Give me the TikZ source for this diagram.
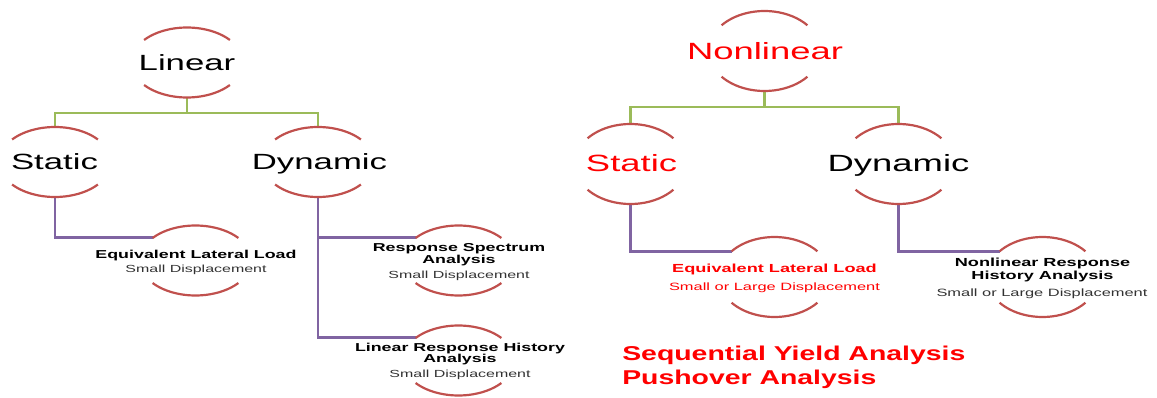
\documentclass[tikz,border=0pt]{standalone}
\usepackage{fontspec}
\setmainfont{Liberation Sans}
\usetikzlibrary{shapes.geometric}
\definecolor{ringred}{RGB}{192,80,77}
\definecolor{lngreen}{RGB}{155,187,89}
\definecolor{lnpurple}{RGB}{128,100,162}
\definecolor{txtgray}{RGB}{50,50,50}
\definecolor{txtred}{RGB}{255,0,0}
\newcommand\ringarcs[3]{%
  \draw[ring] ([shift={(140:#2 and #3)}]#1.center) arc[start angle=140,end angle=40,x radius=#2,y radius=#3];
  \draw[ring] ([shift={(220:#2 and #3)}]#1.center) arc[start angle=220,end angle=320,x radius=#2,y radius=#3];}
\begin{document}
\begin{tikzpicture}[x=1pt,y=1pt,
  ring/.style={draw=ringred, line width=2.2pt},
  frameL/.style={ellipse, minimum width=112pt, minimum height=70pt, inner sep=0pt, outer sep=0pt},
  frameR/.style={frameL, minimum height=80pt},
  bigL/.style={anchor=base, xscale=1.58, inner sep=0pt, font=\fontsize{22}{26}\selectfont},
  bigR/.style={anchor=base, xscale=1.55, inner sep=0pt, font=\fontsize{23.5}{28}\selectfont},
  subbL/.style={anchor=base, xscale=1.55, inner sep=0pt, font=\bfseries\fontsize{11.5}{13}\selectfont},
  subrL/.style={anchor=base, xscale=1.55, inner sep=0pt, text=txtgray, font=\fontsize{10.3}{12}\selectfont},
  subbR/.style={anchor=base, xscale=1.55, inner sep=0pt, font=\bfseries\fontsize{11.7}{13}\selectfont},
  subrR/.style={anchor=base, xscale=1.55, inner sep=0pt, text=txtgray, font=\fontsize{10.6}{12}\selectfont},
  greenln/.style={draw=lngreen, line width=2.7pt},
  purpln/.style={draw=lnpurple, line width=2.7pt},
  seqtxt/.style={anchor=base west, xscale=1.42, inner sep=0pt, text=txtred, font=\bfseries\fontsize{20}{24}\selectfont}
]
\useasboundingbox (0,0) rectangle (1157,397);

% ---------- left tree frames ----------
\node[frameL] (lin) at (187,334.5) {};
\node[frameL] (lst) at (55,235) {};
\node[frameL] (ldy) at (318,235) {};
\node[frameL] (leq) at (195.5,136.5) {};
\node[frameL] (lrs) at (458.5,136.5) {};
\node[frameL] (llr) at (458.5,36.5) {};
% ---------- right tree frames ----------
\node[frameR] (rnl) at (764.5,346) {};
\node[frameR] (rst) at (630.5,233) {};
\node[frameR] (rdy) at (898.5,233) {};
\node[frameR] (req) at (774.5,120) {};
\node[frameR] (rnr) at (1042.5,120) {};

% connectors
\draw[greenln] (lin.south) -- ++(0,-15.5) -| (lst.north);
\draw[greenln] (lin.south) -- ++(0,-15.5) -| (ldy.north);
\draw[purpln] (lst.south) |- (leq.152.3);
\draw[purpln] (ldy.south) |- (lrs.152.3);
\draw[purpln] (ldy.south) |- (llr.152.3);
\draw[greenln] (rnl.south) -- ++(0,-16) -| (rst.north);
\draw[greenln] (rnl.south) -- ++(0,-16) -| (rdy.north);
\draw[purpln] (rst.south) |- (req.149.1);
\draw[purpln] (rdy.south) |- (rnr.149.1);

% arcs
\ringarcs{lin}{56}{35}
\ringarcs{lst}{56}{35}
\ringarcs{ldy}{56}{35}
\ringarcs{leq}{56}{35}
\ringarcs{lrs}{56}{35}
\ringarcs{llr}{56}{35}
\ringarcs{rnl}{56}{40}
\ringarcs{rst}{56}{40}
\ringarcs{rdy}{56}{40}
\ringarcs{req}{56}{40}
\ringarcs{rnr}{56}{40}

% texts left
\node[bigL] (tlin) at (187,326.6) {Linear};
\node[bigL] (tlst) at (54.5,227.1) {Static};
\node[bigL] (tldy) at (319.5,227.1) {Dynamic};
\node[subbL] (tleq1) at (196,138.9) {Equivalent Lateral Load};
\node[subrL] (tleq2) at (196,124.3) {Small Displacement};
\node[subbL] (tlrs1) at (459,145.9) {Response Spectrum};
\node[subbL] (tlrs2) at (459,133.9) {Analysis};
\node[subrL] (tlrs3) at (459,118.3) {Small Displacement};
\node[subbL] (tllr1) at (460,45.9) {Linear Response History};
\node[subbL] (tllr2) at (460,34.9) {Analysis};
\node[subrL] (tllr3) at (460,19.3) {Small Displacement};

% texts right
\node[bigR, text=txtred] (trnl) at (765,337.6) {Nonlinear};
\node[bigR, text=txtred] (trst) at (631.5,225.1) {Static};
\node[bigR] (trdy) at (898.5,225.1) {Dynamic};
\node[subbR, text=txtred] (treq1) at (774.5,124.8) {Equivalent Lateral Load};
\node[subrR, text=txtred] (treq2) at (774.5,106.2) {Small or Large Displacement};
\node[subbR] (trnr1) at (1042.5,130.8) {Nonlinear Response};
\node[subbR] (trnr2) at (1042.5,117.8) {History Analysis};
\node[subrR] (trnr3) at (1042,100.2) {Small or Large Displacement};

\node[seqtxt] (tseq) at (622,36.8) {Sequential Yield Analysis};
\node[seqtxt] (tpush) at (622,12.8) {Pushover Analysis};
\end{tikzpicture}
\end{document}
